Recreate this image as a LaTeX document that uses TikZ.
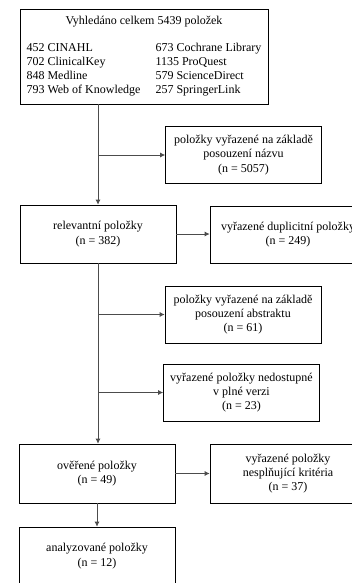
\documentclass[tikz,border=0pt]{standalone}
\usepackage{fontspec}
\setmainfont{Liberation Serif}
\usepackage{tikz}
\usetikzlibrary{arrows.meta, positioning, calc}

\begin{document}
\begin{tikzpicture}[
    x=1pt, y=-1pt,
    box/.style={draw, line width=0.6pt, minimum width=156pt, minimum height=57pt, align=center,
        inner sep=2pt, font=\fontsize{12}{14.3}\selectfont},
    arr/.style={-{Latex[length=5pt, width=5pt]}, draw=black!70, line width=0.9pt},
]
\clip (0,0) rectangle (352,583);
\fill[white] (0,0) rectangle (352,583);

% search results
\node[box, minimum width=248pt, minimum height=95pt] (search) at (144,56.5) {%
    \renewcommand{\arraystretch}{1}%
    \begin{tabular}{@{}p{129pt}@{}l@{}}
    \multicolumn{2}{c}{Vyhledáno celkem 5439 položek}\\[12pt]
    452 CINAHL & 673 Cochrane Library\\
    702 ClinicalKey & 1135 ProQuest\\
    848 Medline & 579 ScienceDirect\\
    793 Web of Knowledge & 257 SpringerLink
    \end{tabular}};

\node[box] (title) at (243.5,155) {položky vyřazené na základě\\posouzení názvu\\(n = 5057)};
\node[box, minimum height=58pt] (relevant) at (98,234) {relevantní položky\\(n = 382)};
\node[box] (dupl) at (288,234.5) {vyřazené duplicitní položky\\(n = 249)};
\node[box] (abstract) at (243,314.5) {položky vyřazené na základě\\posouzení abstraktu\\(n = 61)};
\node[box] (fulltext) at (241.5,392.5) {vyřazené položky nedostupné\\v plné verzi\\(n = 23)};
\node[box, minimum height=59pt] (verified) at (97,473.5) {ověřené položky\\(n = 49)};
\node[box, minimum height=59pt] (criteria) at (288,473.5) {vyřazené položky\\nesplňující kritéria\\(n = 37)};
\node[box, minimum height=58pt] (analyzed) at (97,556) {analyzované položky\\(n = 12)};

% connectors
\draw[arr] (search.south -| relevant) -- (relevant.north);
\draw[arr] (title.west -| relevant) -- (title.west);
\draw[arr] (relevant.east) -- (relevant.east -| dupl.west);
\draw[arr] (relevant.south) -- (relevant.south |- verified.north);
\draw[arr] (abstract.west -| relevant) -- (abstract.west);
\draw[arr] (fulltext.west -| relevant) -- (fulltext.west);
\draw[arr] (verified.east) -- (verified.east -| criteria.west);
\draw[arr] (verified.south) -- (analyzed.north);

\end{tikzpicture}
\end{document}
